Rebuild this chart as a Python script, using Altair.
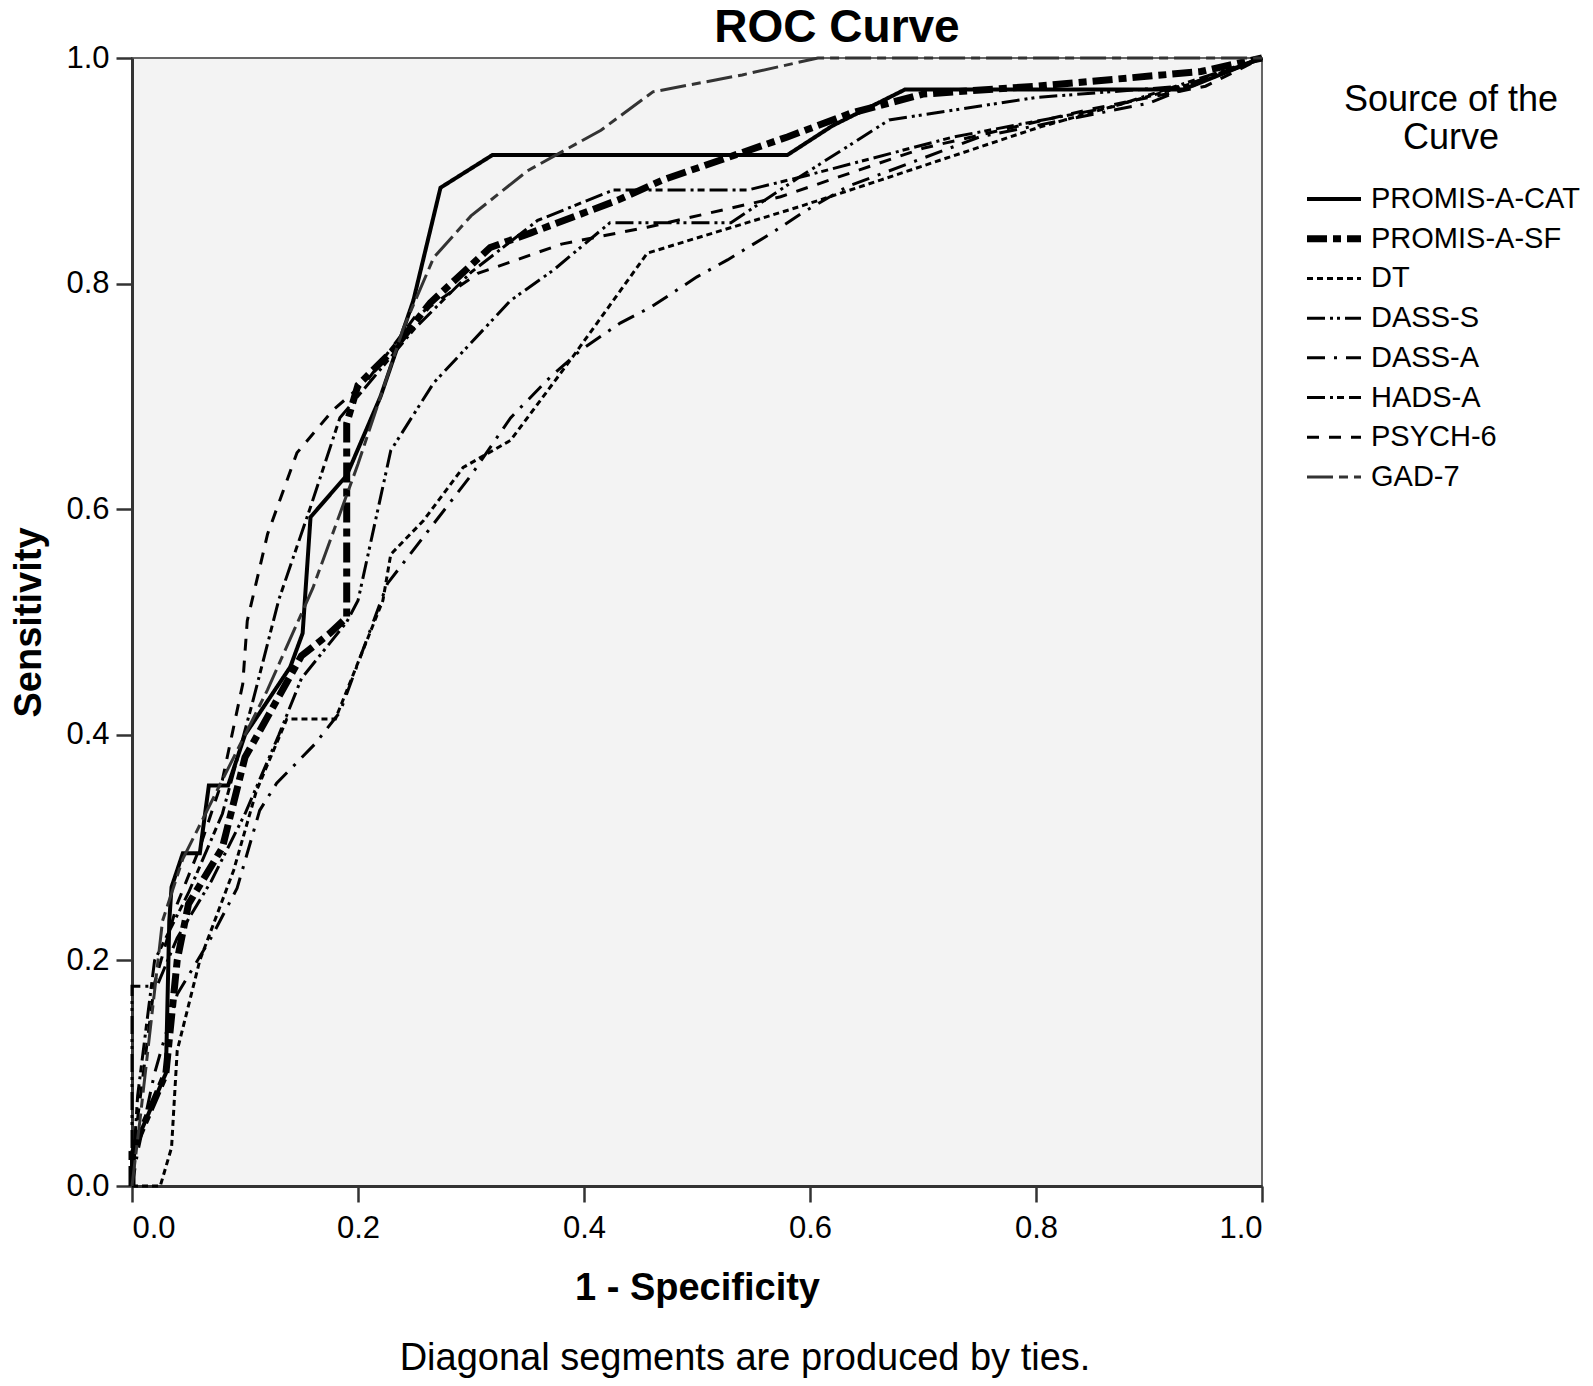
import altair as alt
import pandas as pd

FONT = "Arial, Liberation Sans, sans-serif"

names = ["PROMIS-A-CAT", "PROMIS-A-SF", "DT", "DASS-S", "DASS-A", "HADS-A", "PSYCH-6", "GAD-7"]

cat_x = [0, 0, 0.03, 0.033, 0.035, 0.045, 0.06, 0.068, 0.085, 0.1, 0.14, 0.151, 0.158, 0.19, 0.22, 0.249, 0.273, 0.319, 0.58, 0.62, 0.684, 0.93, 1]
cat_y = [0, 0.03, 0.1, 0.235, 0.265, 0.295, 0.295, 0.355, 0.355, 0.4, 0.46, 0.49, 0.593, 0.63, 0.7, 0.785, 0.885, 0.914, 0.914, 0.94, 0.972, 0.972, 1]

sf_x = [0, 0, 0.03, 0.04, 0.05, 0.08, 0.1, 0.15, 0.175, 0.19, 0.19, 0.2, 0.23, 0.264, 0.317, 0.353, 0.43, 0.47, 0.58, 0.636, 0.7, 0.8, 0.946, 1]
sf_y = [0, 0.03, 0.1, 0.2, 0.25, 0.3, 0.38, 0.47, 0.49, 0.504, 0.676, 0.71, 0.74, 0.783, 0.832, 0.845, 0.874, 0.892, 0.93, 0.951, 0.968, 0.975, 0.988, 1]

dt_x = [0, 0.025, 0.035, 0.04, 0.06, 0.09, 0.11, 0.137, 0.18, 0.222, 0.229, 0.258, 0.293, 0.335, 0.39, 0.456, 0.59, 0.663, 0.804, 0.928, 1]
dt_y = [0, 0, 0.034, 0.12, 0.2, 0.28, 0.35, 0.414, 0.414, 0.519, 0.56, 0.59, 0.637, 0.661, 0.735, 0.827, 0.868, 0.892, 0.939, 0.974, 1]

dasss_x = [0, 0, 0.022, 0.04, 0.07, 0.1, 0.13, 0.15, 0.19, 0.2, 0.229, 0.267, 0.335, 0.373, 0.423, 0.53, 0.59, 0.67, 0.8, 0.93, 1]
dasss_y = [0, 0.177, 0.177, 0.22, 0.27, 0.33, 0.4, 0.45, 0.5, 0.519, 0.652, 0.712, 0.785, 0.812, 0.854, 0.854, 0.894, 0.945, 0.965, 0.975, 1]

dassa_x = [0, 0.005, 0.02, 0.04, 0.07, 0.093, 0.113, 0.128, 0.162, 0.184, 0.226, 0.3, 0.335, 0.37, 0.397, 0.432, 0.459, 0.5, 0.527, 0.568, 0.592, 0.633, 0.75, 0.9, 1]
dassa_y = [0, 0.03, 0.1, 0.17, 0.22, 0.264, 0.333, 0.357, 0.392, 0.42, 0.534, 0.63, 0.681, 0.717, 0.741, 0.765, 0.779, 0.806, 0.821, 0.846, 0.862, 0.886, 0.93, 0.96, 1]

hads_x = [0, 0.005, 0.02, 0.05, 0.08, 0.107, 0.13, 0.158, 0.184, 0.214, 0.25, 0.3, 0.359, 0.426, 0.545, 0.59, 0.727, 0.869, 1]
hads_y = [0, 0.08, 0.2, 0.26, 0.33, 0.43, 0.52, 0.602, 0.681, 0.717, 0.76, 0.81, 0.856, 0.883, 0.883, 0.894, 0.93, 0.957, 1]

psych_x = [0, 0.005, 0.02, 0.04, 0.06, 0.08, 0.098, 0.102, 0.12, 0.146, 0.178, 0.208, 0.25, 0.306, 0.38, 0.456, 0.574, 0.7, 0.85, 0.95, 1]
psych_y = [0, 0.06, 0.18, 0.25, 0.3, 0.36, 0.445, 0.501, 0.578, 0.65, 0.688, 0.714, 0.77, 0.809, 0.835, 0.85, 0.877, 0.92, 0.955, 0.975, 1]

gad_x = [0, 0.007, 0.027, 0.045, 0.065, 0.09, 0.12, 0.16, 0.2, 0.24, 0.267, 0.3, 0.35, 0.415, 0.461, 0.54, 0.607, 1]
gad_y = [0, 0.058, 0.235, 0.29, 0.33, 0.38, 0.44, 0.53, 0.64, 0.76, 0.823, 0.86, 0.9, 0.936, 0.97, 0.985, 1, 1]

series_x = [cat_x, sf_x, dt_x, dasss_x, dassa_x, hads_x, psych_x, gad_x]
series_y = [cat_y, sf_y, dt_y, dasss_y, dassa_y, hads_y, psych_y, gad_y]

colors = ["#000000", "#000000", "#000000", "#000000", "#000000", "#000000", "#000000", "#333333"]
dashes = [[1, 0], [20, 6, 8, 6], [6, 4], [18, 5, 3, 4, 3, 5], [18, 9, 3, 9], [18, 5, 3, 4, 7, 5], [12, 10], [26, 6, 9, 6]]
widths = [4, 7, 3, 3, 3, 3, 3, 3]

ticks = [0.0, 0.2, 0.4, 0.6, 0.8, 1.0]
title_text = "ROC Curve"
legend_title = ["Source of the", "Curve"]
note = "Diagonal segments are produced by ties."

W, H = 1130, 1128

width_of = dict(zip(names, widths))
rows = []
for name, xs, ys in zip(names, series_x, series_y):
    for i, (xv, yv) in enumerate(zip(xs, ys)):
        rows.append({"series": name, "idx": i, "x": xv, "y": yv, "w": width_of[name]})
df = pd.DataFrame(rows)
leg_df = pd.DataFrame({"series": names, "w": widths})

color_enc = alt.Color("series:N", scale=alt.Scale(domain=names, range=colors), legend=None)
dash_enc = alt.StrokeDash("series:N", scale=alt.Scale(domain=names, range=dashes), legend=None)
width_enc = alt.StrokeWidth("w:Q", scale=None, legend=None)

axis_common = dict(grid=False, format=".1f", values=ticks,
                   tickSize=16, tickWidth=2.5, tickColor="#333", domainColor="#333", domainWidth=3,
                   labelFontSize=31, labelFont=FONT, labelColor="#000",
                   titleFontSize=38, titleFont=FONT, titleFontWeight="bold", titleColor="#000")

lines = alt.Chart(df).mark_line(clip=False).encode(
    x=alt.X("x:Q", scale=alt.Scale(domain=[0, 1], nice=False),
            axis=alt.Axis(title="1 - Specificity", labelPadding=11,
                          titleY=102, titleBaseline="middle", **axis_common)),
    y=alt.Y("y:Q", scale=alt.Scale(domain=[0, 1], nice=False),
            axis=alt.Axis(title="Sensitivity", labelPadding=7,
                          titleX=-103, titleY=564, titleAngle=-90, titleBaseline="middle", **axis_common)),
    color=color_enc, strokeDash=dash_enc, strokeWidth=width_enc,
    detail="series:N",
    order=alt.Order("idx:Q"),
)

leg_y = alt.Y("series:N", scale=alt.Scale(type="point", domain=names, range=[141, 419], padding=0), axis=None)

leg_lines = alt.Chart(leg_df).mark_rule().encode(
    y=leg_y, x=alt.value(1175), x2=alt.value(1229),
    color=color_enc, strokeDash=dash_enc, strokeWidth=width_enc,
)

leg_labels = alt.Chart(leg_df).mark_text(
    align="left", baseline="middle", fontSize=29, font=FONT, color="#000"
).encode(y=leg_y, x=alt.value(1239), text="series:N")

leg_title = alt.Chart(pd.DataFrame({"t": legend_title, "k": [0, 1]})).mark_text(
    align="center", baseline="middle", fontSize=36, font=FONT, color="#000"
).encode(
    text="t:N",
    y=alt.Y("k:O", scale=alt.Scale(type="point", domain=[0, 1], range=[42, 80], padding=0), axis=None),
    x=alt.value(1319),
)

main_title = alt.Chart(pd.DataFrame({"t": [title_text]})).mark_text(
    align="center", baseline="alphabetic", fontSize=46, fontWeight="bold", font=FONT, color="#000"
).encode(text="t:N", x=alt.value(705), y=alt.value(-16))

footnote = alt.Chart(pd.DataFrame({"t": [note]})).mark_text(
    fontSize=38, font=FONT, color="#000", align="center", baseline="middle"
).encode(text="t:N", x=alt.value(613), y=alt.value(1301))

chart = alt.layer(lines, leg_lines, leg_labels, leg_title, main_title, footnote).resolve_scale(
    y="independent"
).properties(
    width=W, height=H,
    autosize=alt.AutoSizeParams(type="none"),
    padding={"left": 124, "top": 50, "right": 1577 - 124 - W, "bottom": 1370 - 50 - H},
    background="white",
).configure_view(fill="#f3f3f3", stroke="#666", strokeWidth=2)

chart.save("out.html", embed_options={"renderer": "svg", "actions": False})
